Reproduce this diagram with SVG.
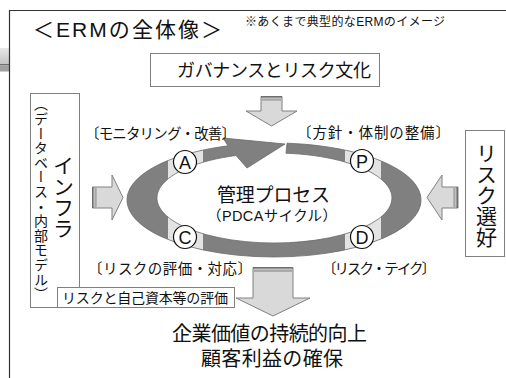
<svg xmlns="http://www.w3.org/2000/svg" width="506" height="378" viewBox="0 0 506 378">
<style>
text{font-family:"Liberation Sans","Noto Sans CJK JP",sans-serif;fill:#111}
.box{fill:#fff;stroke:#808080;stroke-width:1}
.arrow{fill:#d9d9d9;stroke:#808080;stroke-width:1}
.stripe{fill:#a6a6a6}
.lbl{font-size:14.5px}
.vt{writing-mode:tb}
.letter{fill:#fff;stroke:#111;stroke-width:1.2}
.lt{font-size:18px;text-anchor:middle}
</style>
<defs>
<linearGradient id="band" gradientUnits="userSpaceOnUse" x1="127" y1="0" x2="421" y2="0">
<stop offset="0" stop-color="#808080"/>
<stop offset="0.139" stop-color="#808080"/>
<stop offset="0.139" stop-color="#e3e3e3"/>
<stop offset="0.258" stop-color="#e3e3e3"/>
<stop offset="0.258" stop-color="#808080"/>
<stop offset="0.741" stop-color="#808080"/>
<stop offset="0.741" stop-color="#e3e3e3"/>
<stop offset="0.864" stop-color="#e3e3e3"/>
<stop offset="0.864" stop-color="#808080"/>
<stop offset="1" stop-color="#808080"/>
</linearGradient>
<linearGradient id="blob" x1="0" y1="0" x2="0" y2="1">
<stop offset="0" stop-color="#e8e8e8"/>
<stop offset="1" stop-color="#c4c4c4"/>
</linearGradient>
</defs>

<rect x="0" y="0" width="506" height="378" fill="#fff"/>
<!-- partial element at left edge -->
<rect x="0" y="48" width="9" height="16" fill="url(#blob)"/>
<rect x="0" y="64" width="9" height="1.5" fill="#6e6e6e"/>
<rect x="0" y="65.5" width="9" height="6" fill="#a0a0a0"/>
<!-- frame -->
<path d="M9.5,378 V10.5 H506" fill="none" stroke="#333" stroke-width="1.2"/>

<g id="title">
<text x="33" y="37" font-size="21" textLength="189">＜ERMの全体像＞</text>
</g>
<g id="subtitle">
<text x="245" y="26" font-size="12" textLength="200">※あくまで典型的なERMのイメージ</text>
</g>

<g id="governance">
<rect class="box" x="150.5" y="53.5" width="229" height="33"/>
<text x="177" y="77" font-size="18" textLength="194">ガバナンスとリスク文化</text>
</g>

<g id="connectors">
<!-- top arrow -->
<path class="arrow" d="M261,96.5 H282 V111 H297 L271.5,126 L246,111 H261 Z"/>
<rect x="261" y="96" width="21" height="1.6" fill="#6e6e6e"/>
<rect x="261.5" y="98.5" width="20" height="2.2" class="stripe"/>
<!-- left arrow -->
<path class="arrow" d="M92.5,187 H112 V175 L123,197.5 L112,220 V208 H92.5 Z"/>
<rect x="92" y="187" width="1.6" height="21" fill="#6e6e6e"/>
<rect x="94.5" y="187.5" width="2.2" height="20" class="stripe"/>
<!-- right arrow -->
<path class="arrow" d="M458,187 H442 V175 L427,197.5 L442,220 V208 H458 Z"/>
<rect x="456.4" y="187" width="1.6" height="21" fill="#6e6e6e"/>
<rect x="453.3" y="187.5" width="2.2" height="20" class="stripe"/>
<!-- bottom arrow -->
<path class="arrow" d="M253,267.5 H293 V298 H310 L273,316 L236,298 H253 Z"/>
<rect x="253" y="267" width="40" height="1.6" fill="#6e6e6e"/>
<rect x="253.5" y="269.5" width="39" height="2.4" class="stripe"/>
</g>

<g id="cycle">
<path d="M287,143.22 A147,57 0 1 1 228,145.86 L223,138 L285,144 L247,168 L236,155.48 A117.5,45 0 1 0 286,153.22 Z" fill="url(#band)" stroke="#6a6a6a" stroke-width="0.8"/>
<circle class="letter" cx="185" cy="162" r="11.5"/>
<text class="lt" x="185" y="168.5">A</text>
<circle class="letter" cx="362" cy="161" r="11.5"/>
<text class="lt" x="362" y="167.5">P</text>
<circle class="letter" cx="185" cy="237" r="11.5"/>
<text class="lt" x="185" y="243.5">C</text>
<circle class="letter" cx="362" cy="237" r="11.5"/>
<text class="lt" x="362" y="243.5">D</text>
<text x="217" y="202" font-size="19" textLength="113">管理プロセス</text>
<text x="207" y="221" font-size="14.5" textLength="130">（PDCAサイクル）</text>
</g>

<g id="labels">
<text class="lbl" x="85" y="139" textLength="151">〔モニタリング・改善〕</text>
<text class="lbl" x="297" y="138" textLength="153">〔方針・体制の整備〕</text>
<text class="lbl" x="88" y="274" textLength="164">〔リスクの評価・対応〕</text>
<text class="lbl" x="322" y="274" textLength="114">〔リスク・テイク〕</text>
</g>

<g id="infra">
<rect class="box" x="30.5" y="93.5" width="49" height="214" stroke="#999"/>
<text class="vt" x="40" y="97" font-size="14" letter-spacing="0.6">（データベース・内部モデル）</text>
<text class="vt" x="62" y="155" font-size="21">インフラ</text>
</g>

<g id="risk-appetite">
<rect class="box" x="465.5" y="130.5" width="39" height="126"/>
<text class="vt" x="485" y="143" font-size="21">リスク選好</text>
</g>

<g id="evaluation">
<rect class="box" x="57.5" y="287.5" width="177" height="20" stroke="#999"/>
<text x="62" y="303" font-size="14" textLength="166">リスクと自己資本等の評価</text>
</g>

<g id="outcome">
<text x="172" y="341" font-size="20" textLength="195">企業価値の持続的向上</text>
<text x="201" y="366" font-size="20" textLength="142">顧客利益の確保</text>
</g>
</svg>
